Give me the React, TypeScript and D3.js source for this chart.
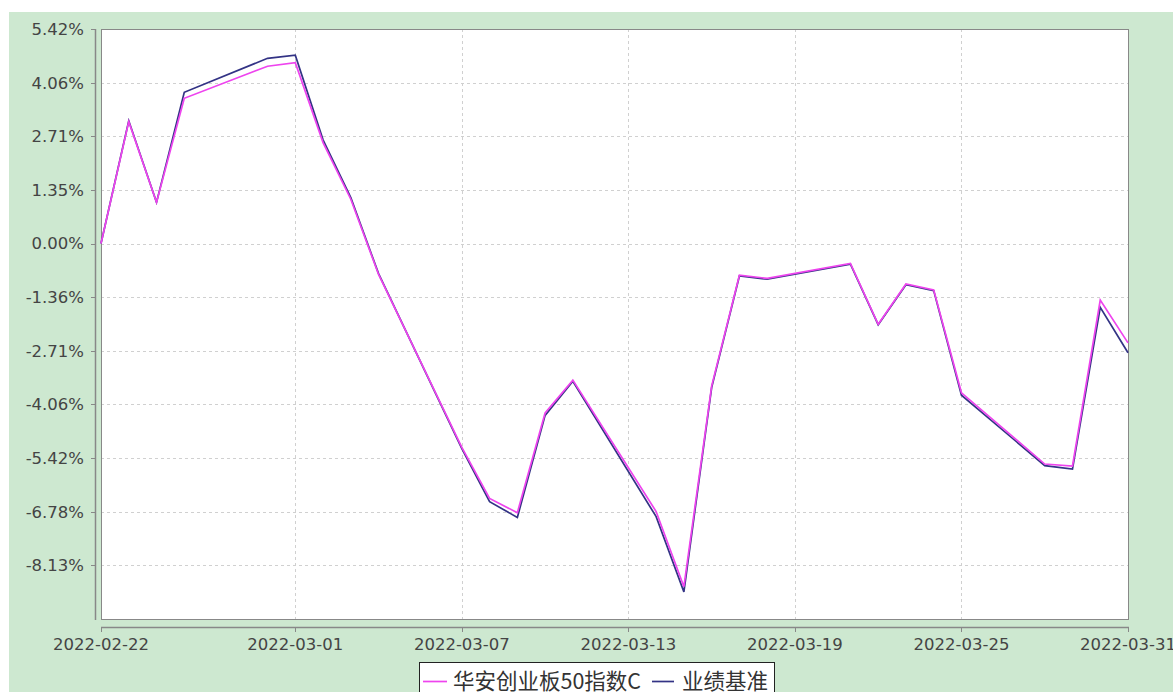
import React from 'react';
import * as d3 from 'd3';

// trading days shown on the chart
const dates = [
  '2022-02-22', '2022-02-23', '2022-02-24', '2022-02-25', '2022-02-28',
  '2022-03-01', '2022-03-02', '2022-03-03', '2022-03-04', '2022-03-07',
  '2022-03-08', '2022-03-09', '2022-03-10', '2022-03-11', '2022-03-14',
  '2022-03-15', '2022-03-16', '2022-03-17', '2022-03-18', '2022-03-21',
  '2022-03-22', '2022-03-23', '2022-03-24', '2022-03-25', '2022-03-28',
  '2022-03-29', '2022-03-30', '2022-03-31',
];

// 华安创业板50指数C (%)
const fundValues = [
  0, 3.08, 1.04, 3.67, 4.48, 4.57, 2.55, 1.12, -0.78, -5.15,
  -6.44, -6.8, -4.28, -3.45, -6.77, -8.67, -3.6, -0.8, -0.88, -0.5,
  -2.04, -1.02, -1.17, -3.77, -5.57, -5.62, -1.43, -2.51,
];

// 业绩基准 (%)
const benchValues = [
  0, 3.1, 1.04, 3.82, 4.68, 4.76, 2.62, 1.16, -0.76, -5.18,
  -6.52, -6.92, -4.34, -3.48, -6.9, -8.8, -3.64, -0.82, -0.9, -0.52,
  -2.05, -1.04, -1.19, -3.83, -5.61, -5.7, -1.61, -2.76,
];

const xTickDates = [
  '2022-02-22', '2022-03-01', '2022-03-07', '2022-03-13',
  '2022-03-19', '2022-03-25', '2022-03-31',
];

const yTickValues = [5.42, 4.065, 2.71, 1.355, 0, -1.355, -2.71, -4.065, -5.42, -6.775, -8.13];
const yTickLabels = ['5.42%', '4.06%', '2.71%', '1.35%', '0.00%', '-1.36%', '-2.71%', '-4.06%', '-5.42%', '-6.78%', '-8.13%'];

const seriesNames = ['华安创业板50指数C', '业绩基准'];

const W = 1173;
const H = 692;
const plot = { left: 101, top: 29, right: 1128, bottom: 619 };

const parse = d3.timeParse('%Y-%m-%d');

export default function App() {
  const x = d3
    .scaleTime()
    .domain([parse('2022-02-22')!, parse('2022-03-31')!])
    .range([plot.left, plot.right]);
  const y = d3.scaleLinear().domain([-9.485, 5.42]).range([plot.bottom, plot.top]);

  const line = d3
    .line<number>()
    .x((_, i) => x(parse(dates[i])!))
    .y((d) => y(d));

  const axisFont = { fontFamily: 'DejaVu Sans', fontSize: 16.5, fill: '#444' };
  const legendFont = "'Noto Sans CJK SC', sans-serif";

  return (
    <svg
      width={W}
      height={H}
      style={{ position: 'absolute', left: 0, top: 0, display: 'block' }}
    >
      <rect x={0} y={0} width={W} height={H} fill="#fff" />
      <rect x={9} y={12} width={W - 9} height={H - 12} fill="#cde8d0" />

      {/* plot area */}
      <rect
        x={plot.left}
        y={plot.top}
        width={plot.right - plot.left}
        height={plot.bottom - plot.top}
        fill="#fff"
      />

      {/* grid */}
      {yTickValues.map((v) => (
        <line
          key={'gy' + v}
          x1={plot.left}
          x2={plot.right}
          y1={Math.round(y(v)) + 0.5}
          y2={Math.round(y(v)) + 0.5}
          stroke="#d0d0d0"
          strokeDasharray="3,3"
        />
      ))}
      {xTickDates.map((d) => (
        <line
          key={'gx' + d}
          x1={Math.round(x(parse(d)!)) + 0.5}
          x2={Math.round(x(parse(d)!)) + 0.5}
          y1={plot.top}
          y2={plot.bottom}
          stroke="#d0d0d0"
          strokeDasharray="3,3"
        />
      ))}

      <rect
        x={plot.left + 0.5}
        y={plot.top + 0.5}
        width={plot.right - plot.left}
        height={plot.bottom - plot.top}
        fill="none"
        stroke="#888"
      />

      {/* series: benchmark first, fund on top */}
      <path d={line(benchValues) ?? ''} fill="none" stroke="#333385" strokeWidth={1.7} />
      <path d={line(fundValues) ?? ''} fill="none" stroke="#ee44ee" strokeWidth={1.7} />

      {/* y axis */}
      <line x1={95.5} x2={95.5} y1={plot.top} y2={plot.bottom + 1} stroke="#888" strokeWidth={1.5} />
      {yTickValues.map((v, i) => (
        <g key={'ty' + v}>
          <line x1={91} x2={95} y1={Math.round(y(v)) + 0.5} y2={Math.round(y(v)) + 0.5} stroke="#888" />
          <text x={84} y={y(v)} dy="0.36em" textAnchor="end" {...axisFont}>
            {yTickLabels[i]}
          </text>
        </g>
      ))}

      {/* x axis */}
      <line x1={plot.left} x2={plot.right + 1} y1={627.5} y2={627.5} stroke="#888" strokeWidth={1.5} />
      {xTickDates.map((d) => (
        <g key={'tx' + d}>
          <line
            x1={Math.round(x(parse(d)!)) + 0.5}
            x2={Math.round(x(parse(d)!)) + 0.5}
            y1={627}
            y2={632}
            stroke="#888"
          />
          <text x={x(parse(d)!)} y={650} textAnchor="middle" {...axisFont}>
            {d}
          </text>
        </g>
      ))}

      {/* legend */}
      <rect x={419.5} y={662.5} width={355} height={40} fill="#fff" stroke="#222" />
      <line x1={423} x2={447} y1={681.5} y2={681.5} stroke="#ee44ee" strokeWidth={1.7} />
      <text x={453} y={689} fontFamily={legendFont} fontSize={21.5} fill="#333">
        {seriesNames[0]}
      </text>
      <line x1={652} x2={674} y1={681.5} y2={681.5} stroke="#333385" strokeWidth={1.7} />
      <text x={682} y={689} fontFamily={legendFont} fontSize={21.5} fill="#333">
        {seriesNames[1]}
      </text>
    </svg>
  );
}
